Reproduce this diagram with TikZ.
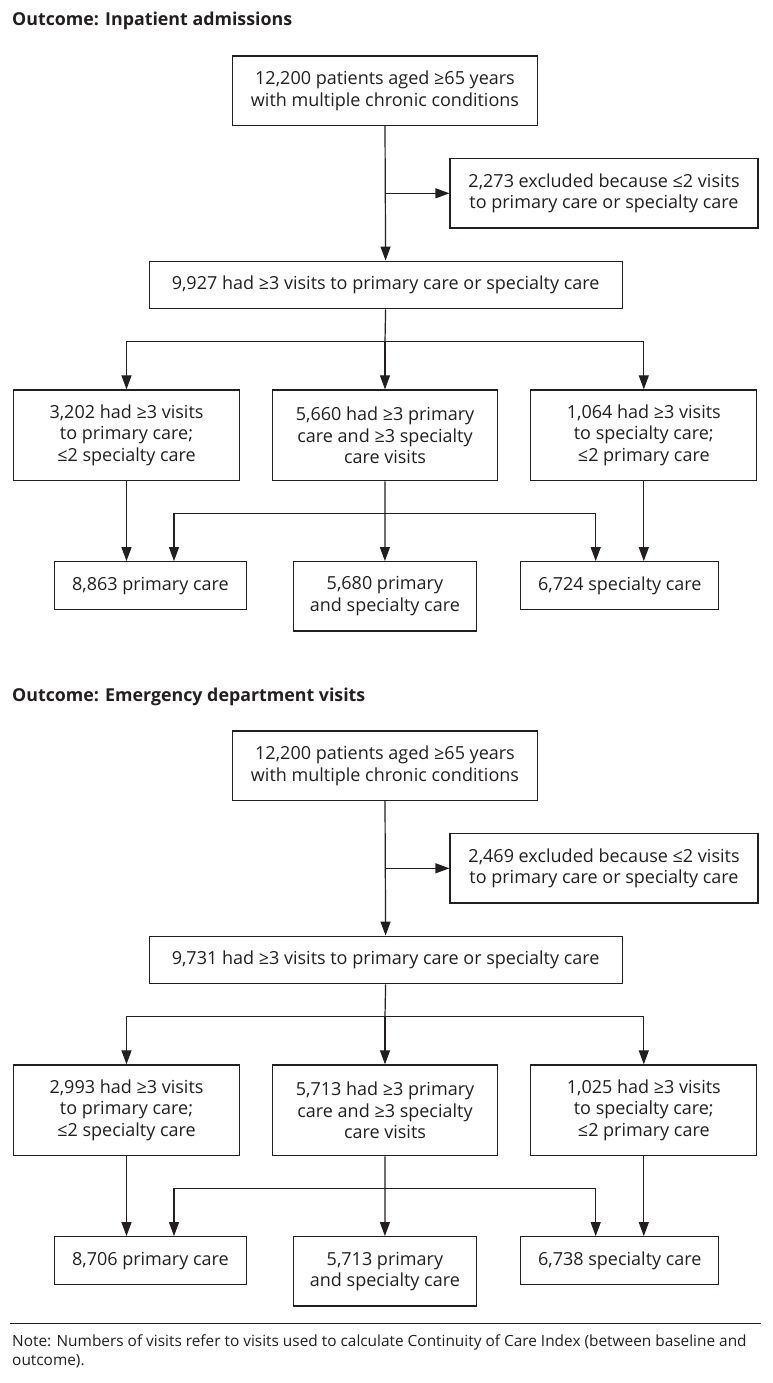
\documentclass[tikz,border=0pt]{standalone}
\usepackage{fontspec}
\setmainfont{Open Sans}
\usetikzlibrary{arrows.meta,calc}
\definecolor{ink}{HTML}{231F20}
\tikzset{
  box/.style={draw=ink, line width=1.2pt, text=ink, align=center, inner sep=0pt,
    font=\fontsize{18}{21.5}\selectfont},
  link/.style={draw=ink, line width=1.2pt},
  arr/.style={link, -{Triangle[length=14pt,width=10pt]}},
  heading/.style={anchor=base west, inner sep=0pt, text=ink,
    font=\fontsize{17.8}{20}\selectfont\bfseries},
  notetext/.style={anchor=base west, inner sep=0pt, text=ink,
    font=\fontsize{15.4}{19}\selectfont},
}
\newcommand\flowpanel[9]{%
  \node[box, minimum width=305.5pt, minimum height=69.3pt] (a#1) at (385,90.7)
    {12,200 patients aged ≥65 years\\with multiple chronic conditions};
  \node[box, minimum width=308pt, minimum height=69.3pt] (e#1) at (604,193.3)
    {#2 excluded because ≤2 visits\\to primary care or specialty care};
  \node[box, minimum width=473pt, minimum height=47.7pt] (b#1) at (385.6,285)
    {#3 had ≥3 visits to primary care or specialty care};
  \node[box, minimum width=226pt, minimum height=90.7pt] (l#1) at (126.5,435.3)
    {#4 had ≥3 visits\\to primary care;\\≤2 specialty care};
  \node[box, minimum width=225pt, minimum height=90.7pt] (m#1) at (385,435.3)
    {#5 had ≥3 primary\\care and ≥3 specialty\\care visits};
  \node[box, minimum width=226pt, minimum height=90.7pt] (r#1) at (643.8,435.3)
    {#6 had ≥3 visits\\to specialty care;\\≤2 primary care};
  \node[box, minimum width=192pt, minimum height=48pt] (pl#1) at (150.4,585.7)
    {#7 primary care};
  \node[box, minimum width=183pt, minimum height=69.3pt] (pm#1) at (384.9,596.3)
    {#8 primary\\and specialty care};
  \node[box, minimum width=198pt, minimum height=48pt] (pr#1) at (619.8,585.7)
    {#9 specialty care};
  % connectors
  \coordinate (x#1) at (a#1.south |- e#1.west);
  \draw[arr] (a#1.south) -- (b#1.north);
  \draw[arr] (x#1) -- (e#1.west);
  \coordinate (s#1) at (385,341.7);
  \draw[link] (b#1.south) -- (s#1);
  \draw[arr] (s#1) -| (l#1.north);
  \draw[arr] (s#1) -- (m#1.north);
  \draw[arr] (s#1) -| (r#1.north);
  \draw[arr] (l#1.south) -- (l#1.south |- pl#1.north);
  \draw[arr] (r#1.south) -- (r#1.south |- pr#1.north);
  \coordinate (c#1) at (385,513.3);
  \draw[arr] (m#1.south) -- (pm#1.north);
  \draw[arr] (c#1) -| ([xshift=23.6pt]pl#1.north);
  \draw[arr] (c#1) -| ([xshift=-24.1pt]pr#1.north);
}
\begin{document}
\begin{tikzpicture}[x=1pt,y=-1pt]
  \useasboundingbox (0,0) rectangle (773,1383);
  \fill[white] (0,0) rectangle (773,1383);
  \node[heading] (t1) at (12,26) {Outcome: Inpatient admissions};
  \flowpanel{1}{2,273}{9,927}{3,202}{5,660}{1,064}{8,863}{5,680}{6,724}
  \node[heading] (t2) at (12,701) {Outcome: Emergency department visits};
  \begin{scope}[yshift=-675pt]
    \flowpanel{2}{2,469}{9,731}{2,993}{5,713}{1,025}{8,706}{5,713}{6,738}
  \end{scope}
  \coordinate (ruleL) at (10,1323);
  \coordinate (ruleR) at (761,1323);
  \draw[draw=ink, line width=0.9pt] (ruleL) -- (ruleR);
  \node[notetext] (n1) at (12,1346) {Note: Numbers of visits refer to visits used to calculate Continuity of Care Index (between baseline and};
  \node[notetext] (n2) at (12,1365) {outcome).};
\end{tikzpicture}
\end{document}
